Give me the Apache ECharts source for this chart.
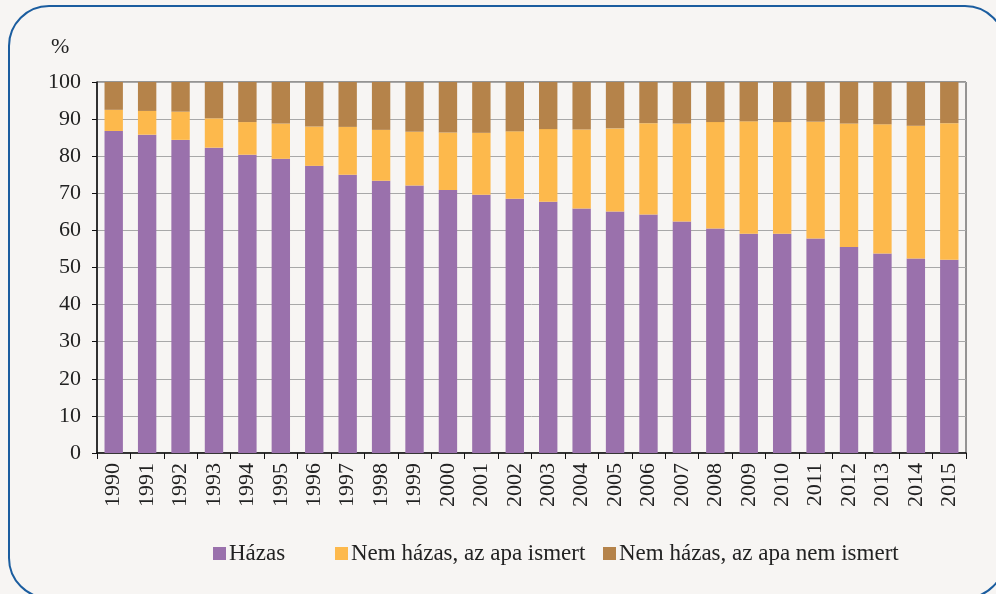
<!DOCTYPE html>
<html>
<head>
<meta charset="utf-8">
<script src="https://cdn.jsdelivr.net/npm/echarts@6/dist/echarts.min.js"></script>
<style>
html,body{margin:0;padding:0;background:#f7f5f3;}
#c{width:996px;height:594px;}
</style>
</head>
<body>
<div id="c"></div>
<script>
const years = ['1990','1991','1992','1993','1994','1995','1996','1997','1998','1999','2000','2001','2002','2003','2004','2005','2006','2007','2008','2009','2010','2011','2012','2013','2014','2015'];
const hazas = [86.8,85.8,84.4,82.3,80.4,79.3,77.4,75.0,73.4,72.1,70.9,69.6,68.5,67.7,65.9,65.1,64.3,62.4,60.5,59.1,59.1,57.8,55.5,53.8,52.4,52.1];
const nemHazasIsmert = [5.7,6.4,7.6,7.9,8.8,9.5,10.6,12.9,13.7,14.5,15.5,16.7,18.2,19.6,21.3,22.4,24.6,26.4,28.7,30.3,30.1,31.5,33.3,34.8,35.8,36.8];
const nemHazasNemIsmert = [7.5,7.8,8.0,9.8,10.8,11.2,12.0,12.1,12.9,13.4,13.6,13.7,13.3,12.7,12.8,12.5,11.1,11.2,10.8,10.6,10.8,10.7,11.2,11.4,11.8,11.1];
const yTicks = {min:0, max:100, interval:10};
const names = ['Házas','Nem házas, az apa ismert','Nem házas, az apa nem ismert'];
const colors = ['#9a71ac','#fdb94c','#b5834a'];
const font = '"Liberation Serif", "DejaVu Serif", serif';

const chart = echarts.init(document.getElementById('c'), null, {renderer:'canvas'});
const mk = (name, data, color) => ({
  name, type:'bar', stack:'t', data, barWidth:'55%',
  itemStyle:{color}, emphasis:{disabled:true}
});
const legendLefts = [208, 330, 598];
const legends = names.map((n, i) => ({
  left: legendLefts[i], top: 537, itemWidth:13, itemHeight:13, itemGap:5,
  icon:'rect', selectedMode:false,
  textStyle:{fontFamily:font, fontSize:23, color:'#222', padding:[0,0,0,-2]},
  data:[n]
}));
chart.setOption({
  backgroundColor:'#f7f5f3',
  animation:false,
  graphic:[
    {type:'rect', shape:{x:9, y:6, width:996, height:592, r:40},
     style:{fill:'none', stroke:'#1b5d9f', lineWidth:2}, z:-1},
    {type:'text', left:51, top:36, style:{text:'%', font:'22px '+font, fill:'#222'}}
  ],
  grid:{left:97, right:30, top:82, bottom:141, show:true, borderColor:'#333', borderWidth:1, backgroundColor:'transparent'},
  legend:legends,
  xAxis:{
    type:'category', data:years,
    axisLine:{lineStyle:{color:'#111', width:1.5}},
    axisTick:{show:true, alignWithLabel:false, length:6, lineStyle:{color:'#111'}},
    axisLabel:{rotate:90, fontFamily:font, fontSize:22, color:'#222', margin:10}
  },
  yAxis:{
    type:'value', min:yTicks.min, max:yTicks.max, interval:yTicks.interval,
    axisLine:{show:true, lineStyle:{color:'#111', width:1.5}},
    axisTick:{show:true, length:5, lineStyle:{color:'#111'}},
    axisLabel:{fontFamily:font, fontSize:22, color:'#222', margin:16},
    splitLine:{lineStyle:{color:'#a8a8a8', width:1}}
  },
  series:[
    mk(names[0], hazas, colors[0]),
    mk(names[1], nemHazasIsmert, colors[1]),
    mk(names[2], nemHazasNemIsmert, colors[2])
  ]
});
</script>
</body>
</html>
